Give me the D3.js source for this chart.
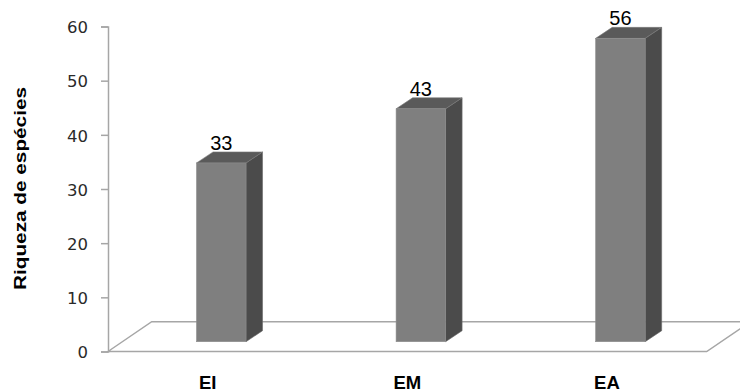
<!DOCTYPE html>
<html>
<head>
<meta charset="utf-8">
<script src="https://cdn.jsdelivr.net/npm/d3@7"></script>
<style>
  html, body { margin: 0; padding: 0; background: #fff; }
  svg { display: block; }
</style>
</head>
<body>
<script>
const categories = ["EI", "EM", "EA"];
const values = [33, 43, 56];
const yTicks = [0, 10, 20, 30, 40, 50, 60];
const yTitle = "Riqueza de espécies";

const W = 740, H = 392;
const mLeft = 108, mRight = 706.7, mTop = 26.5, mBottom = 351.5;
const floorDx = 43.7, floorDy = -29.8;     // floor depth
const planeDx = 13.5, planeDy = -9.8;      // bar front plane offset
const sideDx = 16.5, sideDy = -11;         // bar depth

const svg = d3.select("body").append("svg").attr("width", W).attr("height", H);

const x = d3.scaleBand().domain(categories).range([mLeft, mRight]).padding(0);
const y = d3.scaleLinear().domain([0, 60]).range([mBottom, mTop]);

const lineColor = "#a6a6a6";

// floor
svg.append("path")
  .attr("d", `M${mLeft},${y(0)} L${mLeft + floorDx},${y(0) + floorDy} L${mRight + floorDx},${y(0) + floorDy} L${mRight},${y(0)} Z`)
  .attr("fill", "none").attr("stroke", lineColor).attr("stroke-width", 1.5);

// y axis
const yAxis = d3.axisLeft(y).tickValues(yTicks).tickSize(7).tickPadding(13);
const gy = svg.append("g").attr("transform", `translate(${mLeft},0)`).call(yAxis);
gy.select(".domain").attr("stroke", lineColor).attr("stroke-width", 1.5);
gy.selectAll(".tick line").attr("stroke", lineColor).attr("stroke-width", 1.5);
gy.selectAll(".tick text")
  .attr("font-family", "'DejaVu Sans', Verdana, sans-serif")
  .attr("font-size", 16.5).attr("fill", "#2a2a2a").attr("dy", "0.38em");

// bars
const bw = x.bandwidth() * 0.248;
const bars = svg.append("g").selectAll("g").data(categories).join("g");
bars.each(function(c, i) {
  const g = d3.select(this);
  const cx = x(c) + x.bandwidth() / 2 + planeDx;
  const x0 = cx - bw / 2, x1 = cx + bw / 2;
  const yb = y(0) + planeDy, yt = y(values[i]) + planeDy;
  // side
  g.append("path")
    .attr("d", `M${x1},${yt} L${x1 + sideDx},${yt + sideDy} L${x1 + sideDx},${yb + sideDy} L${x1},${yb} Z`)
    .attr("fill", "#4b4b4b").attr("stroke", "#6a6a6a").attr("stroke-width", 0.6);
  // top
  g.append("path")
    .attr("d", `M${x0},${yt} L${x0 + sideDx},${yt + sideDy} L${x1 + sideDx},${yt + sideDy} L${x1},${yt} Z`)
    .attr("fill", "#5a5a5a").attr("stroke", "#7a7a7a").attr("stroke-width", 0.6);
  // front
  g.append("rect")
    .attr("x", x0).attr("y", yt).attr("width", bw).attr("height", yb - yt)
    .attr("fill", "#7f7f7f").attr("stroke", "#8c8c8c").attr("stroke-width", 0.6);
  // value label
  g.append("text")
    .attr("x", cx).attr("y", yt - 13)
    .attr("text-anchor", "middle")
    .attr("font-family", "'Liberation Sans', Arial, sans-serif")
    .attr("font-size", 20).attr("fill", "#000")
    .text(values[i]);
});

// category labels
svg.append("g").selectAll("text").data(categories).join("text")
  .attr("x", d => x(d) + x.bandwidth() / 2)
  .attr("y", 389)
  .attr("text-anchor", "middle")
  .attr("font-family", "'Liberation Sans', Arial, sans-serif")
  .attr("font-weight", "bold").attr("font-size", 18.5).attr("fill", "#000")
  .text(d => d);

// y title
svg.append("text")
  .attr("transform", `translate(25.5,${(87 + 290) / 2}) rotate(-90)`)
  .attr("text-anchor", "middle")
  .attr("font-family", "'Liberation Sans', Arial, sans-serif")
  .attr("font-weight", "bold").attr("font-size", 16).attr("fill", "#000")
  .attr("textLength", 203).attr("lengthAdjust", "spacingAndGlyphs")
  .text(yTitle);
</script>
</body>
</html>
